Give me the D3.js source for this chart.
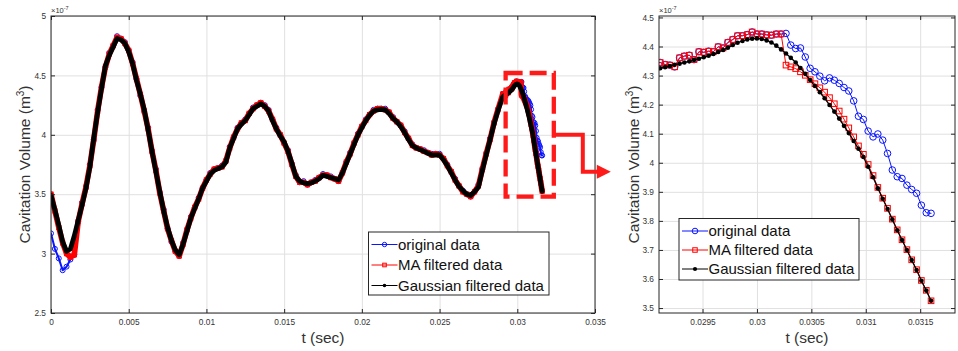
<!DOCTYPE html>
<html>
<head>
<meta charset="utf-8">
<script src="https://cdn.jsdelivr.net/npm/d3@7"></script>
<style>
  html, body { margin: 0; padding: 0; background: #fff; }
  svg { display: block; font-family: "Liberation Sans", Arial, Helvetica, sans-serif; }
</style>
</head>
<body>
<svg id="chart" width="958" height="351"></svg>
<script>
// Cavitation volume, in units of 1e-7 m^3, versus time in seconds.
// Coarse part of the record (whole event) ...
const tCoarse = [
  0, 0.00025, 0.0005, 0.00075, 0.001, 0.00125, 0.0015, 0.00175, 0.002, 0.00225,
  0.0025, 0.00275, 0.003, 0.00325, 0.0035, 0.00375, 0.004, 0.00425, 0.0045, 0.00475,
  0.005, 0.00525, 0.0055, 0.00575, 0.006, 0.00625, 0.0065, 0.00675, 0.007, 0.00725,
  0.0075, 0.00775, 0.008, 0.00825, 0.0085, 0.00875, 0.009, 0.00925, 0.0095, 0.00975,
  0.01, 0.01025, 0.0105, 0.01075, 0.011, 0.01125, 0.0115, 0.01175, 0.012, 0.01225,
  0.0125, 0.01275, 0.013, 0.01325, 0.0135, 0.01375, 0.014, 0.01425, 0.0145, 0.01475,
  0.015, 0.01525, 0.0155, 0.01575, 0.016, 0.01625, 0.0165, 0.01675, 0.017, 0.01725,
  0.0175, 0.01775, 0.018, 0.01825, 0.0185, 0.01875, 0.019, 0.01925, 0.0195, 0.01975,
  0.02, 0.02025, 0.0205, 0.02075, 0.021, 0.02125, 0.0215, 0.02175, 0.022, 0.02225,
  0.0225, 0.02275, 0.023, 0.02325, 0.0235, 0.02375, 0.024, 0.02425, 0.0245, 0.02475,
  0.025, 0.02525, 0.0255, 0.02575, 0.026, 0.02625, 0.0265, 0.02675, 0.027, 0.02725,
  0.0275, 0.02775, 0.028, 0.02825, 0.0285, 0.02875
];
const origCoarse = [
  3.17, 3.04, 2.96, 2.86, 2.89, 2.95, 2.99, 3.27, 3.43, 3.56,
  3.75, 3.96, 4.21, 4.40, 4.57, 4.69, 4.75, 4.83, 4.81, 4.78,
  4.71, 4.61, 4.47, 4.33, 4.20, 4.06, 3.86, 3.71, 3.51, 3.37,
  3.21, 3.10, 3.02, 2.98, 3.09, 3.20, 3.31, 3.39, 3.47, 3.55,
  3.62, 3.68, 3.71, 3.72, 3.74, 3.78, 3.90, 3.98, 4.06, 4.10,
  4.13, 4.18, 4.23, 4.25, 4.27, 4.25, 4.21, 4.13, 4.06, 4.00,
  3.93, 3.87, 3.75, 3.66, 3.60, 3.61, 3.58, 3.60, 3.62, 3.64,
  3.67, 3.66, 3.65, 3.63, 3.61, 3.68, 3.77, 3.85, 3.93, 4.01,
  4.07, 4.13, 4.17, 4.21, 4.22, 4.22, 4.22, 4.19, 4.15, 4.11,
  4.08, 4.03, 3.97, 3.92, 3.89, 3.88, 3.87, 3.85, 3.84, 3.84,
  3.84, 3.80, 3.75, 3.69, 3.63, 3.57, 3.53, 3.50, 3.48, 3.52,
  3.58, 3.71, 3.84, 3.97, 4.10, 4.21
];
const maCoarse = [
  3.50, 3.36, 3.22, 3.09, 3.00, 2.97, 2.99, 3.27, 3.42, 3.56,
  3.74, 3.96, 4.20, 4.40, 4.57, 4.68, 4.75, 4.82, 4.81, 4.77,
  4.71, 4.60, 4.47, 4.34, 4.20, 4.05, 3.86, 3.70, 3.51, 3.36,
  3.21, 3.11, 3.02, 2.98, 3.08, 3.20, 3.30, 3.39, 3.46, 3.55,
  3.62, 3.67, 3.71, 3.72, 3.73, 3.78, 3.89, 3.98, 4.05, 4.10,
  4.12, 4.18, 4.22, 4.25, 4.27, 4.24, 4.20, 4.13, 4.05, 4.00,
  3.93, 3.86, 3.75, 3.65, 3.60, 3.60, 3.58, 3.60, 3.61, 3.64,
  3.66, 3.66, 3.64, 3.63, 3.61, 3.68, 3.77, 3.84, 3.93, 4.00,
  4.07, 4.12, 4.17, 4.20, 4.22, 4.22, 4.21, 4.19, 4.14, 4.11,
  4.08, 4.02, 3.97, 3.91, 3.89, 3.88, 3.86, 3.85, 3.83, 3.84,
  3.83, 3.80, 3.74, 3.69, 3.62, 3.57, 3.52, 3.50, 3.48, 3.52,
  3.57, 3.71, 3.84, 3.96, 4.10, 4.21
];
const gaussCoarse = [
  3.49, 3.37, 3.24, 3.10, 3.02, 3.04, 3.15, 3.28, 3.41, 3.55,
  3.73, 3.97, 4.19, 4.39, 4.58, 4.67, 4.74, 4.81, 4.80, 4.77,
  4.70, 4.60, 4.46, 4.34, 4.21, 4.04, 3.86, 3.69, 3.52, 3.36,
  3.22, 3.11, 3.03, 2.99, 3.08, 3.19, 3.30, 3.38, 3.46, 3.55,
  3.61, 3.67, 3.70, 3.715, 3.73, 3.77, 3.89, 3.97, 4.05, 4.09,
  4.12, 4.17, 4.22, 4.24, 4.26, 4.24, 4.20, 4.12, 4.05, 3.99,
  3.94, 3.86, 3.76, 3.65, 3.61, 3.595, 3.59, 3.595, 3.61, 3.63,
  3.66, 3.65, 3.64, 3.63, 3.62, 3.68, 3.76, 3.84, 3.92, 4.00,
  4.06, 4.12, 4.165, 4.20, 4.21, 4.215, 4.21, 4.18, 4.14, 4.11,
  4.07, 4.02, 3.96, 3.91, 3.89, 3.875, 3.86, 3.845, 3.83, 3.83,
  3.83, 3.79, 3.74, 3.68, 3.62, 3.565, 3.53, 3.50, 3.49, 3.52,
  3.56, 3.70, 3.83, 3.96, 4.09, 4.20
];

// ... and the last collapse at the full 22.5 kHz sampling rate.
const tFine = [
  0.029067, 0.029111, 0.029156, 0.029200, 0.029244, 0.029289, 0.029333, 0.029378, 0.029422, 0.029467,
  0.029511, 0.029556, 0.029600, 0.029644, 0.029689, 0.029733, 0.029778, 0.029822, 0.029867, 0.029911,
  0.029956, 0.030000, 0.030044, 0.030089, 0.030133, 0.030178, 0.030222, 0.030267, 0.030311, 0.030356,
  0.030400, 0.030444, 0.030489, 0.030533, 0.030578, 0.030622, 0.030667, 0.030711, 0.030756, 0.030800,
  0.030844, 0.030889, 0.030933, 0.030978, 0.031022, 0.031067, 0.031111, 0.031156, 0.031200, 0.031244,
  0.031289, 0.031333, 0.031378, 0.031422, 0.031467, 0.031511, 0.031556, 0.031600
];
const origFine = [
  4.343, 4.345, 4.338, 4.336, 4.330, 4.361, 4.367, 4.370, 4.355, 4.382,
  4.380, 4.384, 4.382, 4.399, 4.395, 4.414, 4.424, 4.437, 4.437, 4.441,
  4.450, 4.443, 4.443, 4.440, 4.439, 4.443, 4.443, 4.445, 4.405, 4.393,
  4.395, 4.364, 4.325, 4.313, 4.298, 4.282, 4.292, 4.284, 4.273, 4.259,
  4.247, 4.213, 4.160, 4.149, 4.109, 4.089, 4.099, 4.078, 4.032, 3.975,
  3.952, 3.946, 3.923, 3.908, 3.895, 3.854, 3.828, 3.826
];
const maFine = [
  4.343, 4.345, 4.338, 4.336, 4.330, 4.361, 4.367, 4.370, 4.355, 4.382,
  4.380, 4.384, 4.382, 4.399, 4.395, 4.414, 4.424, 4.437, 4.437, 4.441,
  4.450, 4.443, 4.443, 4.440, 4.439, 4.443, 4.443, 4.336, 4.330, 4.324,
  4.313, 4.301, 4.286, 4.272, 4.258, 4.243, 4.224, 4.203, 4.178, 4.150,
  4.120, 4.089, 4.058, 4.029, 3.994, 3.956, 3.915, 3.878, 3.843, 3.806,
  3.769, 3.735, 3.701, 3.666, 3.632, 3.595, 3.561, 3.525
];
const gaussFine = [
  4.320, 4.325, 4.329, 4.333, 4.337, 4.341, 4.345, 4.349, 4.354, 4.358,
  4.363, 4.368, 4.374, 4.381, 4.388, 4.396, 4.405, 4.413, 4.419, 4.424,
  4.427, 4.428, 4.426, 4.421, 4.414, 4.403, 4.390, 4.376, 4.361, 4.345,
  4.326, 4.306, 4.285, 4.264, 4.243, 4.222, 4.199, 4.176, 4.152, 4.127,
  4.102, 4.075, 4.048, 4.020, 3.986, 3.950, 3.912, 3.876, 3.841, 3.805,
  3.768, 3.734, 3.700, 3.665, 3.631, 3.594, 3.560, 3.525
];

const seriesNames = ["original data", "MA filtered data", "Gaussian filtered data"];

// Tick values and their printed labels
const fullXTicks = [0, 0.005, 0.01, 0.015, 0.02, 0.025, 0.03, 0.035];
const fullXLabels = ["0", "0.005", "0.01", "0.015", "0.02", "0.025", "0.03", "0.035"];
const fullYTicks = [2.5, 3, 3.5, 4, 4.5, 5];
const fullYLabels = ["2.5", "3", "3.5", "4", "4.5", "5"];
const zoomXTicks = [0.0295, 0.03, 0.0305, 0.031, 0.0315];
const zoomXLabels = ["0.0295", "0.03", "0.0305", "0.031", "0.0315"];
const zoomYTicks = [3.5, 3.6, 3.7, 3.8, 3.9, 4.0, 4.1, 4.2, 4.3, 4.4, 4.5];
const zoomYLabels = ["3.5", "3.6", "3.7", "3.8", "3.9", "4", "4.1", "4.2", "4.3", "4.4", "4.5"];

// Region of the full record that is enlarged in the right panel
const zoomWindowT = [0.02925, 0.03235];
const zoomWindowV = [3.48, 4.52];

const tAll = tCoarse.concat(tFine);
const series = [
  { name: seriesNames[0], values: origCoarse.concat(origFine), color: "#0a14ff", marker: "circle" },
  { name: seriesNames[1], values: maCoarse.concat(maFine), color: "#ff0000", marker: "square" },
  { name: seriesNames[2], values: gaussCoarse.concat(gaussFine), color: "#000000", marker: "dot" }
];

const svg = d3.select("#chart");
const defs = svg.append("defs");
const axisColor = "#262626";
const textColor = "#333";

function drawMarker(sel, marker, color, cx, cy, size) {
  if (marker === "circle") {
    sel.append("circle").attr("cx", cx).attr("cy", cy).attr("r", size.circle)
      .attr("fill", "none").attr("stroke", color).attr("stroke-width", 1);
  } else if (marker === "square") {
    const s = size.square;
    sel.append("rect").attr("x", cx - s / 2).attr("y", cy - s / 2).attr("width", s).attr("height", s)
      .attr("fill", "none").attr("stroke", color).attr("stroke-width", 1);
  } else {
    sel.append("circle").attr("cx", cx).attr("cy", cy).attr("r", size.dot)
      .attr("fill", color).attr("stroke", "none");
  }
}

function drawPanel(cfg) {
  const g = svg.append("g");
  const x = d3.scaleLinear().domain(cfg.xDomain).range([cfg.left, cfg.right]);
  const y = d3.scaleLinear().domain(cfg.yDomain).range([cfg.bottom, cfg.top]);
  const w = cfg.right - cfg.left, h = cfg.bottom - cfg.top;

  // grid
  g.append("g").attr("transform", `translate(0,${cfg.bottom})`)
    .call(d3.axisBottom(x).tickValues(cfg.xTicks).tickSize(-h).tickFormat(""))
    .call(a => { a.select(".domain").remove(); a.selectAll("line").attr("stroke", "#e0e0e0"); });
  g.append("g").attr("transform", `translate(${cfg.left},0)`)
    .call(d3.axisLeft(y).tickValues(cfg.yTicks).tickSize(-w).tickFormat(""))
    .call(a => { a.select(".domain").remove(); a.selectAll("line").attr("stroke", "#e0e0e0"); });

  // data: at the full-record scale the dense samples merge into bands,
  // so the traces there are stroked wide
  defs.append("clipPath").attr("id", cfg.id + "-clip")
    .append("rect").attr("x", cfg.left).attr("y", cfg.top).attr("width", w).attr("height", h);
  const plot = g.append("g").attr("clip-path", `url(#${cfg.id}-clip)`);
  const line = d3.line().x(d => x(d[0])).y(d => y(d[1]));
  series.forEach((s, k) => {
    const pts = tAll.map((t, i) => [t, s.values[i]]);
    plot.append("path").datum(pts).attr("d", line)
      .attr("fill", "none").attr("stroke", s.color).attr("stroke-width", cfg.lineWidths[k])
      .attr("stroke-linejoin", "round").attr("stroke-linecap", "round");
    const mg = plot.append("g");
    pts.forEach(p => drawMarker(mg, s.marker, s.color, x(p[0]), y(p[1]), cfg.markerSize));
  });

  // frame
  g.append("rect").attr("x", cfg.left).attr("y", cfg.top).attr("width", w).attr("height", h)
    .attr("fill", "none").attr("stroke", axisColor).attr("stroke-width", 1);

  // ticks, inward on all four sides
  const styleAxis = a => {
    a.select(".domain").remove();
    a.selectAll("line").attr("stroke", axisColor);
    a.selectAll("text").attr("fill", textColor).attr("font-size", "8.3px")
      .attr("font-family", "'Liberation Sans', Arial, sans-serif");
  };
  g.append("g").attr("transform", `translate(0,${cfg.bottom})`)
    .call(d3.axisBottom(x).tickValues(cfg.xTicks).tickFormat((d, i) => cfg.xLabels[i]).tickSize(-4).tickPadding(6))
    .call(styleAxis);
  g.append("g").attr("transform", `translate(0,${cfg.top})`)
    .call(d3.axisTop(x).tickValues(cfg.xTicks).tickFormat("").tickSize(-4))
    .call(styleAxis);
  g.append("g").attr("transform", `translate(${cfg.left},0)`)
    .call(d3.axisLeft(y).tickValues(cfg.yTicks).tickFormat((d, i) => cfg.yLabels[i]).tickSize(-4).tickPadding(5))
    .call(styleAxis);
  g.append("g").attr("transform", `translate(${cfg.right},0)`)
    .call(d3.axisRight(y).tickValues(cfg.yTicks).tickFormat("").tickSize(-4))
    .call(styleAxis);

  // exponent marker
  const ex = g.append("text").attr("x", cfg.left).attr("y", cfg.top - 3)
    .attr("font-size", "7.5px").attr("fill", textColor).text("\u00d710");
  ex.append("tspan").attr("dy", -3).attr("font-size", "5.5px").text("-7");

  // axis titles
  g.append("text").attr("x", (cfg.left + cfg.right) / 2).attr("y", 343)
    .attr("text-anchor", "middle").attr("font-size", "15.5px").attr("fill", textColor)
    .text("t (sec)");
  const yl = g.append("text")
    .attr("transform", `translate(${cfg.yLabelX},${(cfg.top + cfg.bottom) / 2}) rotate(-90)`)
    .attr("text-anchor", "middle").attr("font-size", "15.5px").attr("fill", textColor);
  yl.append("tspan").text("Cavitation Volume (m");
  yl.append("tspan").attr("dy", -6).attr("font-size", "10px").text("3");
  yl.append("tspan").attr("dy", 6).text(")");

  // legend
  const L = cfg.legend;
  const lg = g.append("g");
  lg.append("rect").attr("x", L.x).attr("y", L.y).attr("width", L.w).attr("height", L.h)
    .attr("fill", "#fff").attr("stroke", axisColor).attr("stroke-width", 1);
  series.forEach((s, i) => {
    const cy = L.y + L.first + i * L.step;
    lg.append("line").attr("x1", L.x + 3).attr("x2", L.x + 29).attr("y1", cy).attr("y2", cy)
      .attr("stroke", s.color).attr("stroke-width", 1);
    drawMarker(lg, s.marker, s.color, L.x + 16, cy, L.markerSize);
    lg.append("text").attr("x", L.x + 29.5).attr("y", cy).attr("dy", "0.35em")
      .attr("font-size", "15px").attr("fill", "#111").text(s.name);
  });

  return { x, y, g };
}

const full = drawPanel({
  id: "full", left: 51, right: 595, top: 16, bottom: 313,
  xDomain: [0, 0.035], yDomain: [2.5, 5],
  xTicks: fullXTicks, xLabels: fullXLabels, yTicks: fullYTicks, yLabels: fullYLabels,
  yLabelX: 30,
  lineWidths: [2, 5.6, 4.8],
  markerSize: { circle: 2.5, square: 4.2, dot: 1.8 },
  legend: { x: 368.5, y: 232, w: 180.5, h: 63, first: 12.5, step: 20.5,
            markerSize: { circle: 2.2, square: 3.6, dot: 1.8 } }
});

drawPanel({
  id: "zoom", left: 659, right: 955, top: 16, bottom: 313,
  xDomain: [0.0291, 0.03182], yDomain: [3.483, 4.505],
  xTicks: zoomXTicks, xLabels: zoomXLabels, yTicks: zoomYTicks, yLabels: zoomYLabels,
  yLabelX: 639,
  lineWidths: [1, 1, 1.3],
  markerSize: { circle: 3.3, square: 5.6, dot: 2.3 },
  legend: { x: 679, y: 218.5, w: 180, h: 61.5, first: 12.5, step: 19,
            markerSize: { circle: 2.8, square: 4.5, dot: 2.1 } }
});

// dashed frame around the enlarged window and the connecting arrow
const bx0 = full.x(zoomWindowT[0]), bx1 = full.x(zoomWindowT[1]);
const by0 = full.y(zoomWindowV[1]), by1 = full.y(zoomWindowV[0]);
svg.append("rect").attr("x", bx0).attr("y", by0).attr("width", bx1 - bx0).attr("height", by1 - by0)
  .attr("fill", "none").attr("stroke", "#ff1a1a").attr("stroke-width", 4.3)
  .attr("stroke-dasharray", "17,7");
const ay0 = full.y(4.0), ay1 = full.y(3.69);
svg.append("path")
  .attr("d", `M${bx1},${ay0} H${bx1 + 29} V${ay1} H${bx1 + 44}`)
  .attr("fill", "none").attr("stroke", "#ff1a1a").attr("stroke-width", 4);
svg.append("path")
  .attr("d", `M${bx1 + 43},${ay1 - 7} L${bx1 + 57},${ay1} L${bx1 + 43},${ay1 + 7} Z`)
  .attr("fill", "#ff1a1a");
</script>
</body>
</html>
